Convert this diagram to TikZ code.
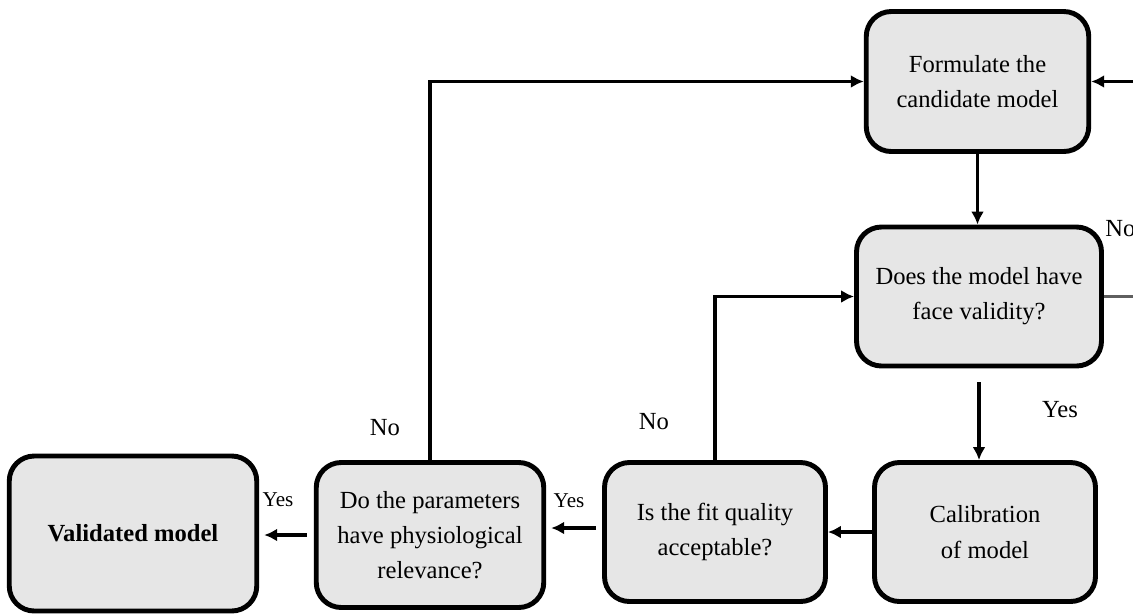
\documentclass[tikz,border=0pt]{standalone}
\usepackage{fontspec}
\setmainfont{Liberation Serif}
\usetikzlibrary{arrows.meta}
\definecolor{boxgray}{RGB}{230,230,230}
\definecolor{linegray}{RGB}{95,95,95}
\tikzset{
  box/.style={draw,line width=2.8pt,rounded corners=0.5cm,fill=boxgray,align=center,
    font=\fontsize{14}{20}\selectfont,inner sep=0pt},
  flow/.style={line width=2pt,-{Latex[length=2.6mm,width=2.6mm]}},
  lbl/.style={font=\fontsize{14}{16}\selectfont,inner sep=0pt},
  slbl/.style={font=\fontsize{12}{14}\selectfont,inner sep=0pt}
}
\begin{document}
\begin{tikzpicture}
\useasboundingbox (0,0) rectangle (22.66,-12.26);
%\draw[step=1cm,very thin,color=gray] (0,-12) grid (22,0);
\node[box,minimum width=4.45cm,minimum height=2.8cm] (form) at (19.55,-1.63) {Formulate the\\candidate model};
\node[box,minimum width=4.9cm,minimum height=2.78cm] (face) at (19.58,-5.93) {Does the model have\\face validity?};
\node[box,minimum width=4.42cm,minimum height=2.78cm] (calib) at (19.7,-10.64) {Calibration\\of model};
\node[box,minimum width=4.42cm,minimum height=2.78cm] (fit) at (14.3,-10.64) {Is the fit quality\\acceptable?};
\node[box,minimum width=4.55cm,minimum height=2.9cm] (param) at (8.6,-10.7) {Do the parameters\\have physiological\\relevance?};
\node[box,minimum width=4.95cm,minimum height=3.1cm] (valid) at (2.66,-10.67) {\textbf{Validated model}};
\coordinate (rin) at (22.66,-1.63);
\coordinate (rout) at (22.66,-5.93);
\draw[flow] (rin) -- (form.east);
\draw[flow] (form.south) -- (form.south |- face.north);
\draw[line width=2pt,linegray] (face.east) -- (rout);
\draw[flow,shorten <=0.28cm] (face.south) -- (face.south |- calib.north);
\draw[flow] (calib.west) -- (calib.west -| fit.east);
\draw[flow,shorten <=0.12cm,shorten >=0.1cm] ([yshift=0.08cm]fit.west) -- ([yshift=0.08cm]fit.west -| param.east);
\draw[flow,shorten <=0.14cm,shorten >=0.1cm] (param.west) -- (param.west -| valid.east);
\draw[flow] (fit.north) |- (face.west);
\draw[flow] (param.north) |- (form.west);
\node[lbl,anchor=west] (nof) at (22.1,-4.57) {No};
\node[lbl] (yesc) at (21.2,-8.2) {Yes};
\node[lbl] (nofit) at (13.08,-8.44) {No};
\node[lbl] (nopar) at (7.7,-8.56) {No};
\node[slbl] (yesfit) at (11.38,-10.02) {Yes};
\node[slbl] (yespar) at (5.56,-10.0) {Yes};
\end{tikzpicture}
\end{document}
